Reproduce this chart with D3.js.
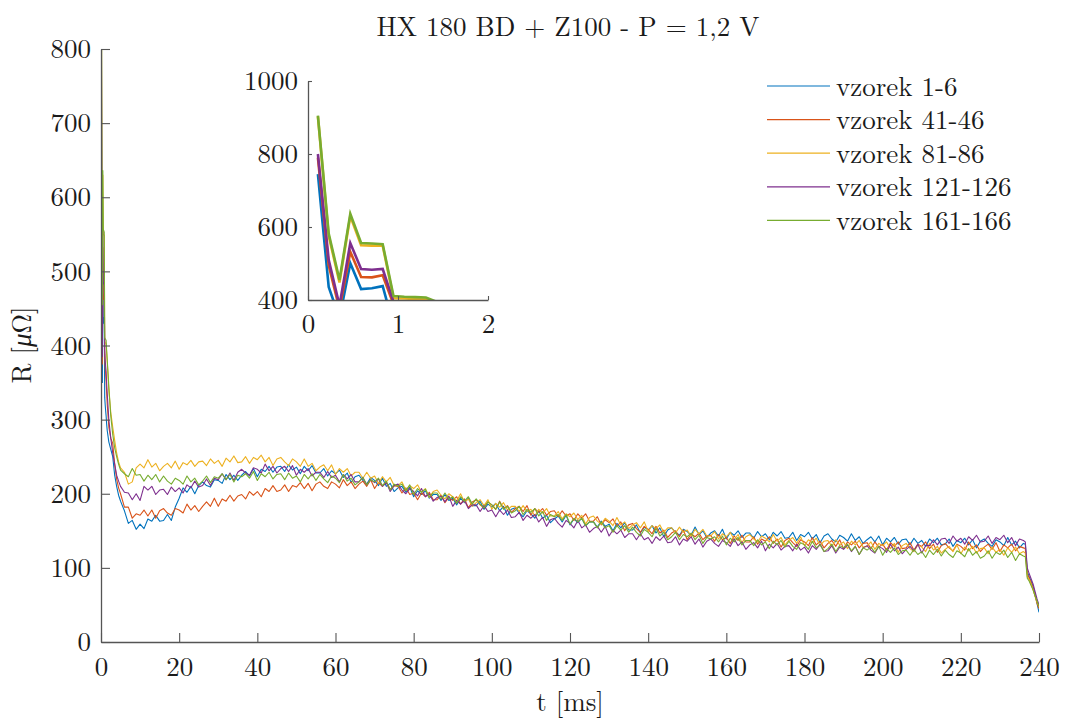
<!DOCTYPE html>
<html>
<head>
<meta charset="utf-8">
<script src="https://cdn.jsdelivr.net/npm/d3@7"></script>
<style>
  html, body { margin: 0; padding: 0; background: #fff; }
  svg { display: block; }
</style>
</head>
<body>
<svg id="chart" width="1067" height="718"></svg>
<script>
// ---------------- DATA ----------------
const title = "HX 180 BD + Z100 - P = 1,2 V";
const seriesNames = ["vzorek 1-6", "vzorek 41-46", "vzorek 81-86", "vzorek 121-126", "vzorek 161-166"];
const seriesColors = ["#0072BD", "#D95319", "#EDB120", "#7E2F8E", "#77AC30"];

const xTicks = [0, 20, 40, 60, 80, 100, 120, 140, 160, 180, 200, 220, 240];
const yTicks = [0, 100, 200, 300, 400, 500, 600, 700, 800];
const insetXTicks = [0, 1, 2];
const insetYTicks = [400, 600, 800, 1000];

// sample times [ms]
const tEarly = [0.11, 0.23, 0.35, 0.47, 0.59, 0.71, 0.83, 0.95, 1.07, 1.19, 1.31, 1.43, 1.6, 2, 2.5, 3, 3.5, 4, 4.5, 5];
const tMain = d3.range(6, 237, 1);
const tTail = [236.5, 237, 237.5, 238, 238.5, 239, 239.5, 240];

const blue = [
745,436,350,501,430,432,438,330,320,312,305,295,285,270,260,250,225,210,198,190,
177,160,164,152,159,153,166,163,171,163,
164,172,164,182,194,208,202,210,200,211,
216,211,209,219,218,214,226,219,225,218,
225,230,224,234,223,233,230,237,229,236,
237,230,239,232,236,227,237,231,238,228,
228,234,224,231,227,232,222,228,215,223,
225,218,213,222,218,211,221,210,214,203,
208,210,202,209,196,204,199,204,194,199,
199,191,199,191,194,185,194,188,194,184,
184,190,179,186,182,187,177,183,171,179,
181,174,169,177,173,167,177,167,171,161,
166,170,162,171,158,166,161,167,157,162,
162,155,163,156,159,150,160,154,161,151,
151,158,147,155,151,157,147,154,142,151,
154,148,144,152,149,144,155,145,150,141,
147,150,143,152,139,148,144,150,141,147,
147,140,149,142,146,138,148,143,149,140,
141,148,137,145,142,148,139,145,134,143,
146,139,135,144,141,136,146,137,142,133,
138,142,135,143,131,140,135,141,132,138,
139,131,140,133,137,129,139,134,140,131,
132,139,129,137,134,140,131,138,127,136,
139,133,129,138,135,130,141,131,136,127,
133,
132,95,88,82,75,65,52,40];

const red = [
790,495,375,532,463,462,468,388,372,362,352,338,320,290,275,268,240,220,208,200,
182,182,167,173,171,178,170,178,167,177,
180,174,171,180,178,174,186,178,184,176,
183,189,183,194,183,193,190,198,190,197,
199,193,203,198,203,196,207,203,211,203,
205,212,203,211,209,215,207,214,204,213,
216,210,207,216,213,208,219,211,216,207,
213,217,210,219,207,215,210,216,206,211,
210,201,208,199,201,192,201,196,202,192,
192,198,188,195,191,196,186,193,181,189,
192,185,181,189,185,179,190,180,184,175,
180,183,176,184,171,180,175,180,171,176,
177,169,177,170,173,164,173,167,173,163,
163,169,158,165,161,166,156,162,150,158,
160,153,148,156,152,146,156,147,151,141,
147,150,142,151,138,146,142,147,138,143,
144,136,145,138,141,133,143,137,144,135,
135,142,132,139,136,142,133,139,128,137,
140,134,129,138,135,130,141,131,136,127,
133,137,129,138,126,135,131,136,127,133,
134,126,135,128,132,124,134,129,135,126,
127,134,124,132,129,135,126,132,121,130,
133,127,123,132,129,124,135,126,131,122,
128,132,125,134,122,131,127,132,123,129,
127,
126,92,86,80,72,62,52,45];

const yellow = [
903,576,448,630,550,549,549,405,404,403,402,392,378,340,310,290,272,255,243,235,
229,213,216,235,240,235,246,236,241,231,
237,241,235,244,233,242,239,245,237,243,
244,238,247,241,245,237,248,243,251,242,
243,250,241,249,246,252,243,249,238,247,
249,243,238,247,243,237,247,237,241,231,
236,239,231,239,226,234,229,234,224,229,
229,221,229,221,224,214,223,216,222,211,
211,216,205,211,207,212,202,207,195,203,
205,198,193,200,196,190,200,189,193,183,
188,192,184,192,179,187,182,188,178,183,
183,176,184,176,179,170,179,174,180,170,
170,176,166,173,169,174,165,171,159,168,
170,163,159,167,163,157,168,158,162,153,
158,161,154,162,149,157,153,158,148,154,
154,147,155,148,151,142,152,146,152,143,
143,149,139,146,142,148,138,145,134,142,
145,139,135,143,140,135,145,136,141,131,
137,141,133,142,130,138,134,140,130,136,
137,129,138,131,135,126,136,131,137,128,
129,135,125,133,130,135,126,133,121,130,
133,126,122,131,128,122,133,124,129,120,
125,129,122,131,119,128,123,129,120,126,
127,119,128,121,125,117,127,121,128,119,
122,
120,88,84,78,70,62,54,48];

const purple = [
800,510,385,556,485,483,485,395,380,372,365,350,335,300,275,255,240,225,217,210,
202,201,192,200,191,210,205,210,199,205,
206,199,209,203,208,201,212,208,217,209,
211,220,211,221,219,227,219,228,218,229,
233,228,225,235,233,228,240,231,237,228,
234,237,230,238,225,233,229,234,224,229,
229,222,230,222,225,216,226,220,226,216,
216,222,212,219,215,220,210,215,203,211,
213,205,200,207,203,197,207,196,200,190,
195,197,189,197,183,191,186,191,180,185,
185,176,184,176,178,169,178,172,178,168,
169,175,164,171,167,172,162,168,156,165,
167,160,155,164,160,154,164,154,158,148,
153,156,148,156,143,151,146,151,141,146,
146,138,146,138,141,133,142,137,143,134,
135,142,131,139,136,142,132,139,128,136,
139,133,129,137,134,129,139,130,135,125,
131,134,127,136,123,132,127,133,124,129,
130,123,132,124,128,120,130,125,132,122,
123,130,120,128,125,131,122,129,118,127,
130,124,120,129,126,121,132,123,128,119,
125,129,123,132,120,130,130,138,131,139,
140,133,143,136,140,132,142,137,144,135,
136,143,133,141,138,144,134,141,130,139,
137,
135,100,92,85,78,68,58,50];

const green = [
905,582,455,636,556,555,553,411,409,408,407,395,380,345,305,280,262,250,240,232,
227,223,234,225,226,217,225,219,226,216,
224,217,213,221,218,213,224,216,221,212,
217,224,215,223,221,227,219,226,216,225,
223,227,221,230,218,227,223,229,220,226,
227,219,228,221,224,216,226,220,227,218,
226,220,215,224,221,215,226,217,221,212,
216,222,212,219,216,221,211,217,205,213,
210,213,204,212,199,207,202,206,196,201,
201,193,201,193,196,187,196,190,196,186,
193,186,181,189,185,179,189,179,183,174,
177,183,172,179,175,180,170,176,164,172,
169,172,164,172,159,167,162,167,157,162,
162,154,162,154,157,148,157,151,157,148,
155,148,143,152,148,142,153,143,148,138,
142,148,138,145,142,147,138,144,133,141,
139,142,135,143,131,140,135,141,131,137,
137,130,138,131,135,126,136,131,137,128,
136,129,125,134,131,125,136,127,131,122,
126,132,122,130,127,132,123,129,118,127,
124,128,121,129,117,126,121,127,118,123,
124,117,125,118,122,114,124,118,125,116,
124,118,114,123,120,115,126,117,122,113,
116,123,113,121,118,124,114,121,110,119,
116,
115,86,82,76,70,62,55,48];

// ---------------- CHART ----------------
const FONT = '"Latin Modern Roman", "CMU Serif", "Liberation Serif", serif';
const FS = 27;
const axisColor = "#555555";
const textColor = "#1a1a1a";

const times = tEarly.concat(tMain, tTail);
const allSeries = [blue, red, yellow, purple, green].map((vals, i) => ({
  name: seriesNames[i],
  color: seriesColors[i],
  points: vals.map((v, j) => [times[j], v])
}));

const svg = d3.select("#chart");
const defs = svg.append("defs");

const M = { left: 101, right: 1039, top: 49, bottom: 642 };
const x = d3.scaleLinear().domain([0, 240]).range([M.left, M.right]);
const y = d3.scaleLinear().domain([0, 800]).range([M.bottom, M.top]);

defs.append("clipPath").attr("id", "clipMain")
  .append("rect").attr("x", M.left).attr("y", M.top)
  .attr("width", M.right - M.left).attr("height", M.bottom - M.top);

const line = d3.line().x(d => x(d[0])).y(d => y(d[1]));

const gLines = svg.append("g").attr("clip-path", "url(#clipMain)");
allSeries.forEach(s => {
  gLines.append("path").datum(s.points)
    .attr("fill", "none").attr("stroke", s.color).attr("stroke-width", 1.1)
    .attr("stroke-linejoin", "round").attr("d", line);
});

function styleAxis(g) {
  g.attr("font-family", null).attr("font-size", null);
  g.select(".domain").attr("stroke", axisColor).attr("stroke-width", 1.3);
  g.selectAll(".tick line").attr("stroke", axisColor).attr("stroke-width", 1.1);
  g.selectAll(".tick text").style("font-family", FONT)
    .style("font-size", FS + "px").attr("fill", textColor);
}

const xAxis = svg.append("g").attr("transform", `translate(0,${M.bottom})`)
  .call(d3.axisBottom(x).tickValues(xTicks).tickSizeInner(-9).tickSizeOuter(0).tickPadding(15).tickFormat(d3.format("d")));
styleAxis(xAxis);

const yAxis = svg.append("g").attr("transform", `translate(${M.left},0)`)
  .call(d3.axisLeft(y).tickValues(yTicks).tickSizeInner(-9).tickSizeOuter(0).tickPadding(10).tickFormat(d3.format("d")));
styleAxis(yAxis);

function txt(sel) {
  return sel.style("font-family", FONT).style("font-size", FS + "px").attr("fill", textColor);
}

txt(svg.append("text")).attr("x", 568).attr("y", 36).attr("text-anchor", "middle").text(title);

txt(svg.append("text")).attr("x", 570).attr("y", 711).attr("text-anchor", "middle").text("t [ms]");

const yl = txt(svg.append("text")).attr("transform", "translate(31,345) rotate(-90)")
  .attr("text-anchor", "middle");
yl.append("tspan").text("R [");
yl.append("tspan").style("font-style", "italic").text("μ");
yl.append("tspan").text("Ω]");

// legend
const lg = svg.append("g");
allSeries.forEach((s, i) => {
  const yy = 86 + i * 33.6;
  lg.append("line").attr("x1", 767).attr("x2", 830).attr("y1", yy).attr("y2", yy)
    .attr("stroke", s.color).attr("stroke-width", 1.2);
  txt(lg.append("text")).attr("x", 836).attr("y", yy + 9.5).text(s.name);
});

// inset
const IM = { left: 308, right: 488, top: 81, bottom: 300 };
const xi = d3.scaleLinear().domain([0, 2]).range([IM.left, IM.right]);
const yi = d3.scaleLinear().domain([400, 1000]).range([IM.bottom, IM.top]);

defs.append("clipPath").attr("id", "clipInset")
  .append("rect").attr("x", IM.left).attr("y", IM.top)
  .attr("width", IM.right - IM.left).attr("height", IM.bottom - IM.top);

const lineI = d3.line().x(d => xi(d[0])).y(d => yi(d[1]));
const gInset = svg.append("g").attr("clip-path", "url(#clipInset)");
allSeries.forEach(s => {
  gInset.append("path").datum(s.points.filter(p => p[0] <= 2.6))
    .attr("fill", "none").attr("stroke", s.color).attr("stroke-width", 2.6)
    .attr("stroke-linejoin", "miter").attr("d", lineI);
});

const xiAxis = svg.append("g").attr("transform", `translate(0,${IM.bottom})`)
  .call(d3.axisBottom(xi).tickValues(insetXTicks).tickSizeInner(-4).tickSizeOuter(0).tickPadding(14).tickFormat(d3.format("d")));
styleAxis(xiAxis);
const yiAxis = svg.append("g").attr("transform", `translate(${IM.left},0)`)
  .call(d3.axisLeft(yi).tickValues(insetYTicks).tickSizeInner(-4).tickSizeOuter(0).tickPadding(10).tickFormat(d3.format("d")));
styleAxis(yiAxis);
</script>
</body>
</html>
